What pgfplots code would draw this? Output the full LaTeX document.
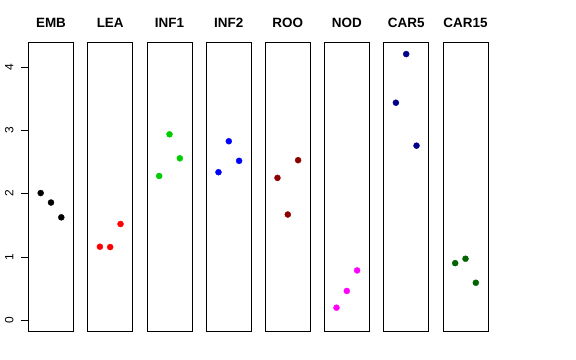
\documentclass[border=0pt]{standalone}
\usepackage{fontspec}
\setmainfont{Liberation Sans}
\usepackage{pgfplots}
\pgfplotsset{compat=1.18}
\definecolor{rgreen}{HTML}{00CD00}
\definecolor{rdarkred}{HTML}{8B0000}
\definecolor{rnavy}{HTML}{00008B}
\definecolor{rdarkgreen}{HTML}{006400}
\definecolor{rmagenta}{HTML}{FF00FF}
\pgfplotsset{
  panel/.style={scale only axis, width=45bp, height=288.3bp,
    xmin=-0.18, xmax=4.18, ymin=-0.174, ymax=4.39,
    xtick=\empty, ytick=\empty,
    axis line style={black, line width=0.75pt},
    title style={font=\fontsize{13.5}{15}\selectfont\bfseries, at={(0.5,1)}, anchor=base, yshift=8.9bp},
    anchor=south west, clip=false},
  pts/.style={only marks, mark=*, mark size=3bp, mark options={draw=#1, fill=#1}}
}
\begin{document}
\begin{tikzpicture}
\useasboundingbox (0,0) rectangle (576bp,360bp);
\begin{axis}[panel, at={(28.5bp,29bp)}, title={EMB},
  ytick={0,1,2,3,4}, ytick pos=left, tick align=outside, major tick length=7.5bp,
  tick style={black, line width=0.6pt},
  yticklabel shift=4bp,
  yticklabel style={rotate=90, anchor=south, font=\fontsize{12}{14}\selectfont},
  /pgf/number format/assume math mode=true]
\addplot[pts=black] coordinates {(1,2.01) (2,1.86) (3,1.625)};
\end{axis}
\begin{axis}[panel, at={(87.7bp,29bp)}, title={LEA}]
\addplot[pts=red] coordinates {(1,1.16) (2,1.155) (3,1.52)};
\end{axis}
\begin{axis}[panel, at={(147bp,29bp)}, title={INF1}]
\addplot[pts=rgreen] coordinates {(1,2.28) (2,2.94) (3,2.56)};
\end{axis}
\begin{axis}[panel, at={(206.3bp,29bp)}, title={INF2}]
\addplot[pts=blue] coordinates {(1,2.34) (2,2.83) (3,2.52)};
\end{axis}
\begin{axis}[panel, at={(265.3bp,29bp)}, title={ROO}]
\addplot[pts=rdarkred] coordinates {(1,2.25) (2,1.67) (3,2.53)};
\end{axis}
\begin{axis}[panel, at={(324.3bp,29bp)}, title={NOD}]
\addplot[pts=rmagenta] coordinates {(1,0.195) (2,0.46) (3,0.785)};
\end{axis}
\begin{axis}[panel, at={(383.7bp,29bp)}, title={CAR5}]
\addplot[pts=rnavy] coordinates {(1,3.44) (2,4.21) (3,2.76)};
\end{axis}
\begin{axis}[panel, at={(443bp,29bp)}, title={CAR15}]
\addplot[pts=rdarkgreen] coordinates {(1,0.90) (2,0.97) (3,0.59)};
\end{axis}
\end{tikzpicture}
\end{document}
